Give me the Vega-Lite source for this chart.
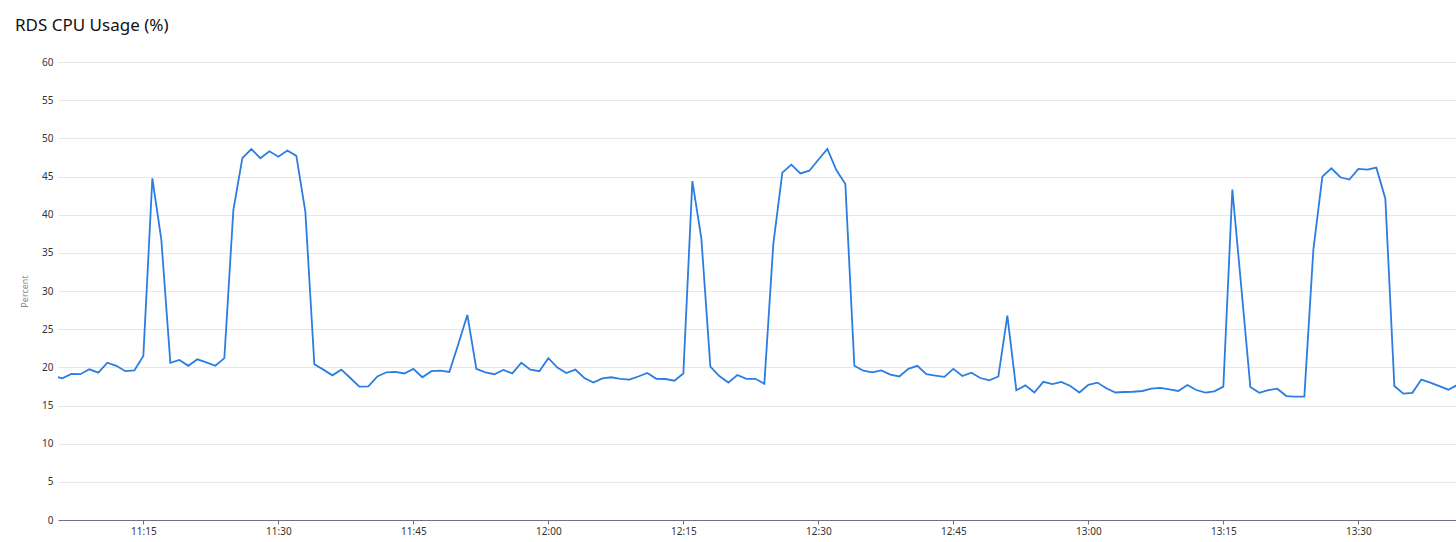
{
  "$schema": "https://vega.github.io/schema/vega-lite/v6.json",
  "autosize": "none",
  "padding": {"left": 58, "top": 62, "right": 0, "bottom": 22},
  "width": 1398,
  "height": 458,
  "background": "white",
  "title": {
    "text": "RDS CPU Usage (%)",
    "anchor": "start",
    "frame": "group",
    "font": "Noto Sans",
    "fontSize": 17,
    "fontWeight": "normal",
    "color": "#111111",
    "dx": -43,
    "dy": -18
  },
  "config": {
    "view": {"stroke": null}
  },
  "data": {
    "values": [
      {"t": "2024-01-01T11:05:00", "v": 18.85},
      {"t": "2024-01-01T11:06:00", "v": 18.56},
      {"t": "2024-01-01T11:07:00", "v": 19.13},
      {"t": "2024-01-01T11:08:00", "v": 19.1},
      {"t": "2024-01-01T11:09:00", "v": 19.74},
      {"t": "2024-01-01T11:10:00", "v": 19.3},
      {"t": "2024-01-01T11:11:00", "v": 20.6},
      {"t": "2024-01-01T11:12:00", "v": 20.2},
      {"t": "2024-01-01T11:13:00", "v": 19.5},
      {"t": "2024-01-01T11:14:00", "v": 19.6},
      {"t": "2024-01-01T11:15:00", "v": 21.5},
      {"t": "2024-01-01T11:16:00", "v": 44.76},
      {"t": "2024-01-01T11:17:00", "v": 36.7},
      {"t": "2024-01-01T11:18:00", "v": 20.6},
      {"t": "2024-01-01T11:19:00", "v": 20.96},
      {"t": "2024-01-01T11:20:00", "v": 20.2},
      {"t": "2024-01-01T11:21:00", "v": 21.05},
      {"t": "2024-01-01T11:22:00", "v": 20.65},
      {"t": "2024-01-01T11:23:00", "v": 20.2},
      {"t": "2024-01-01T11:24:00", "v": 21.2},
      {"t": "2024-01-01T11:25:00", "v": 40.6},
      {"t": "2024-01-01T11:26:00", "v": 47.4},
      {"t": "2024-01-01T11:27:00", "v": 48.6},
      {"t": "2024-01-01T11:28:00", "v": 47.4},
      {"t": "2024-01-01T11:29:00", "v": 48.3},
      {"t": "2024-01-01T11:30:00", "v": 47.6},
      {"t": "2024-01-01T11:31:00", "v": 48.4},
      {"t": "2024-01-01T11:32:00", "v": 47.7},
      {"t": "2024-01-01T11:33:00", "v": 40.4},
      {"t": "2024-01-01T11:34:00", "v": 20.4},
      {"t": "2024-01-01T11:35:00", "v": 19.7},
      {"t": "2024-01-01T11:36:00", "v": 18.95},
      {"t": "2024-01-01T11:37:00", "v": 19.7},
      {"t": "2024-01-01T11:38:00", "v": 18.6},
      {"t": "2024-01-01T11:39:00", "v": 17.47},
      {"t": "2024-01-01T11:40:00", "v": 17.5},
      {"t": "2024-01-01T11:41:00", "v": 18.8},
      {"t": "2024-01-01T11:42:00", "v": 19.35},
      {"t": "2024-01-01T11:43:00", "v": 19.4},
      {"t": "2024-01-01T11:44:00", "v": 19.2},
      {"t": "2024-01-01T11:45:00", "v": 19.8},
      {"t": "2024-01-01T11:46:00", "v": 18.7},
      {"t": "2024-01-01T11:47:00", "v": 19.5},
      {"t": "2024-01-01T11:48:00", "v": 19.56},
      {"t": "2024-01-01T11:49:00", "v": 19.4},
      {"t": "2024-01-01T11:50:00", "v": 23.05},
      {"t": "2024-01-01T11:51:00", "v": 26.86},
      {"t": "2024-01-01T11:52:00", "v": 19.8},
      {"t": "2024-01-01T11:53:00", "v": 19.35},
      {"t": "2024-01-01T11:54:00", "v": 19.1},
      {"t": "2024-01-01T11:55:00", "v": 19.65},
      {"t": "2024-01-01T11:56:00", "v": 19.2},
      {"t": "2024-01-01T11:57:00", "v": 20.6},
      {"t": "2024-01-01T11:58:00", "v": 19.7},
      {"t": "2024-01-01T11:59:00", "v": 19.5},
      {"t": "2024-01-01T12:00:00", "v": 21.2},
      {"t": "2024-01-01T12:01:00", "v": 19.96},
      {"t": "2024-01-01T12:02:00", "v": 19.26},
      {"t": "2024-01-01T12:03:00", "v": 19.7},
      {"t": "2024-01-01T12:04:00", "v": 18.6},
      {"t": "2024-01-01T12:05:00", "v": 18.0},
      {"t": "2024-01-01T12:06:00", "v": 18.56},
      {"t": "2024-01-01T12:07:00", "v": 18.7},
      {"t": "2024-01-01T12:08:00", "v": 18.5},
      {"t": "2024-01-01T12:09:00", "v": 18.4},
      {"t": "2024-01-01T12:10:00", "v": 18.8},
      {"t": "2024-01-01T12:11:00", "v": 19.26},
      {"t": "2024-01-01T12:12:00", "v": 18.5},
      {"t": "2024-01-01T12:13:00", "v": 18.47},
      {"t": "2024-01-01T12:14:00", "v": 18.25},
      {"t": "2024-01-01T12:15:00", "v": 19.2},
      {"t": "2024-01-01T12:16:00", "v": 44.4},
      {"t": "2024-01-01T12:17:00", "v": 36.9},
      {"t": "2024-01-01T12:18:00", "v": 20.1},
      {"t": "2024-01-01T12:19:00", "v": 18.86},
      {"t": "2024-01-01T12:20:00", "v": 18.0},
      {"t": "2024-01-01T12:21:00", "v": 19.0},
      {"t": "2024-01-01T12:22:00", "v": 18.5},
      {"t": "2024-01-01T12:23:00", "v": 18.5},
      {"t": "2024-01-01T12:24:00", "v": 17.86},
      {"t": "2024-01-01T12:25:00", "v": 36.2},
      {"t": "2024-01-01T12:26:00", "v": 45.5},
      {"t": "2024-01-01T12:27:00", "v": 46.55},
      {"t": "2024-01-01T12:28:00", "v": 45.4},
      {"t": "2024-01-01T12:29:00", "v": 45.76},
      {"t": "2024-01-01T12:30:00", "v": 47.2},
      {"t": "2024-01-01T12:31:00", "v": 48.6},
      {"t": "2024-01-01T12:32:00", "v": 45.85},
      {"t": "2024-01-01T12:33:00", "v": 44.0},
      {"t": "2024-01-01T12:34:00", "v": 20.2},
      {"t": "2024-01-01T12:35:00", "v": 19.56},
      {"t": "2024-01-01T12:36:00", "v": 19.35},
      {"t": "2024-01-01T12:37:00", "v": 19.6},
      {"t": "2024-01-01T12:38:00", "v": 19.04},
      {"t": "2024-01-01T12:39:00", "v": 18.8},
      {"t": "2024-01-01T12:40:00", "v": 19.8},
      {"t": "2024-01-01T12:41:00", "v": 20.2},
      {"t": "2024-01-01T12:42:00", "v": 19.1},
      {"t": "2024-01-01T12:43:00", "v": 18.9},
      {"t": "2024-01-01T12:44:00", "v": 18.75},
      {"t": "2024-01-01T12:45:00", "v": 19.8},
      {"t": "2024-01-01T12:46:00", "v": 18.86},
      {"t": "2024-01-01T12:47:00", "v": 19.3},
      {"t": "2024-01-01T12:48:00", "v": 18.6},
      {"t": "2024-01-01T12:49:00", "v": 18.3},
      {"t": "2024-01-01T12:50:00", "v": 18.8},
      {"t": "2024-01-01T12:51:00", "v": 26.77},
      {"t": "2024-01-01T12:52:00", "v": 17.0},
      {"t": "2024-01-01T12:53:00", "v": 17.64},
      {"t": "2024-01-01T12:54:00", "v": 16.7},
      {"t": "2024-01-01T12:55:00", "v": 18.1},
      {"t": "2024-01-01T12:56:00", "v": 17.8},
      {"t": "2024-01-01T12:57:00", "v": 18.1},
      {"t": "2024-01-01T12:58:00", "v": 17.55},
      {"t": "2024-01-01T12:59:00", "v": 16.7},
      {"t": "2024-01-01T13:00:00", "v": 17.7},
      {"t": "2024-01-01T13:01:00", "v": 18.0},
      {"t": "2024-01-01T13:02:00", "v": 17.25},
      {"t": "2024-01-01T13:03:00", "v": 16.7},
      {"t": "2024-01-01T13:04:00", "v": 16.77},
      {"t": "2024-01-01T13:05:00", "v": 16.8},
      {"t": "2024-01-01T13:06:00", "v": 16.9},
      {"t": "2024-01-01T13:07:00", "v": 17.2},
      {"t": "2024-01-01T13:08:00", "v": 17.3},
      {"t": "2024-01-01T13:09:00", "v": 17.1},
      {"t": "2024-01-01T13:10:00", "v": 16.9},
      {"t": "2024-01-01T13:11:00", "v": 17.68},
      {"t": "2024-01-01T13:12:00", "v": 17.03},
      {"t": "2024-01-01T13:13:00", "v": 16.7},
      {"t": "2024-01-01T13:14:00", "v": 16.86},
      {"t": "2024-01-01T13:15:00", "v": 17.47},
      {"t": "2024-01-01T13:16:00", "v": 43.3},
      {"t": "2024-01-01T13:17:00", "v": 30.4},
      {"t": "2024-01-01T13:18:00", "v": 17.42},
      {"t": "2024-01-01T13:19:00", "v": 16.66},
      {"t": "2024-01-01T13:20:00", "v": 17.0},
      {"t": "2024-01-01T13:21:00", "v": 17.2},
      {"t": "2024-01-01T13:22:00", "v": 16.24},
      {"t": "2024-01-01T13:23:00", "v": 16.16},
      {"t": "2024-01-01T13:24:00", "v": 16.16},
      {"t": "2024-01-01T13:25:00", "v": 35.4},
      {"t": "2024-01-01T13:26:00", "v": 44.98},
      {"t": "2024-01-01T13:27:00", "v": 46.07},
      {"t": "2024-01-01T13:28:00", "v": 44.9},
      {"t": "2024-01-01T13:29:00", "v": 44.6},
      {"t": "2024-01-01T13:30:00", "v": 46.0},
      {"t": "2024-01-01T13:31:00", "v": 45.9},
      {"t": "2024-01-01T13:32:00", "v": 46.16},
      {"t": "2024-01-01T13:33:00", "v": 42.1},
      {"t": "2024-01-01T13:34:00", "v": 17.55},
      {"t": "2024-01-01T13:35:00", "v": 16.55},
      {"t": "2024-01-01T13:36:00", "v": 16.66},
      {"t": "2024-01-01T13:37:00", "v": 18.4},
      {"t": "2024-01-01T13:38:00", "v": 18.0},
      {"t": "2024-01-01T13:39:00", "v": 17.55},
      {"t": "2024-01-01T13:40:00", "v": 17.07},
      {"t": "2024-01-01T13:41:00", "v": 17.7}
    ]
  },
  "mark": {"type": "line", "color": "#2b7de0", "strokeWidth": 1.8, "clip": true},
  "encoding": {
    "x": {
      "field": "t",
      "type": "temporal",
      "scale": {
        "domain": [
          {"year": 2024, "month": 1, "date": 1, "hours": 11, "minutes": 5, "seconds": 31},
          {"year": 2024, "month": 1, "date": 1, "hours": 13, "minutes": 40, "seconds": 51}
        ]
      },
      "axis": {
        "title": null,
        "format": "%H:%M",
        "values": [
          {"year": 2024, "month": 1, "date": 1, "hours": 11, "minutes": 15},
          {"year": 2024, "month": 1, "date": 1, "hours": 11, "minutes": 30},
          {"year": 2024, "month": 1, "date": 1, "hours": 11, "minutes": 45},
          {"year": 2024, "month": 1, "date": 1, "hours": 12, "minutes": 0},
          {"year": 2024, "month": 1, "date": 1, "hours": 12, "minutes": 15},
          {"year": 2024, "month": 1, "date": 1, "hours": 12, "minutes": 30},
          {"year": 2024, "month": 1, "date": 1, "hours": 12, "minutes": 45},
          {"year": 2024, "month": 1, "date": 1, "hours": 13, "minutes": 0},
          {"year": 2024, "month": 1, "date": 1, "hours": 13, "minutes": 15},
          {"year": 2024, "month": 1, "date": 1, "hours": 13, "minutes": 30}
        ],
        "grid": false,
        "domainColor": "#6b7385",
        "domainWidth": 1.2,
        "tickColor": "#6b7385",
        "tickSize": 4,
        "labelFont": "Noto Sans",
        "labelFontSize": 10,
        "labelColor": "#333333",
        "labelPadding": 2,
        "labelFlush": false
      }
    },
    "y": {
      "field": "v",
      "type": "quantitative",
      "scale": {"domain": [0, 60], "nice": false},
      "axis": {
        "title": "Percent",
        "titleFont": "Noto Sans",
        "titleFontSize": 9,
        "titleFontWeight": "normal",
        "titleColor": "#8a8a8a",
        "titlePadding": 12,
        "values": [0, 5, 10, 15, 20, 25, 30, 35, 40, 45, 50, 55, 60],
        "domain": false,
        "ticks": false,
        "grid": true,
        "gridColor": "#e6e6e6",
        "gridWidth": 1,
        "labelFont": "Noto Sans",
        "labelFontSize": 10,
        "labelColor": "#333333",
        "labelPadding": 5
      }
    }
  }
}
